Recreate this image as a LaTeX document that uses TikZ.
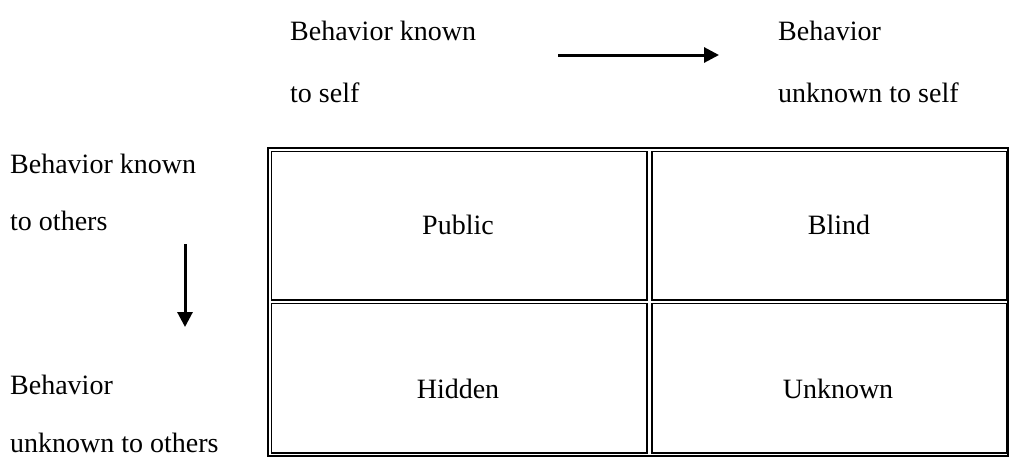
\documentclass[tikz,border=0pt]{standalone}
\usepackage{fontspec}
\setmainfont{Liberation Serif}
\usetikzlibrary{arrows.meta}
\begin{document}
\begin{tikzpicture}[x=1pt,y=-1pt,
  lbl/.style={anchor=base west,inner sep=0pt,font=\fontsize{28}{34}\selectfont},
  celltext/.style={anchor=center,inner sep=0pt,font=\fontsize{28}{34}\selectfont},
  border/.style={draw=black,line width=1.5pt},
  cellbox/.style={draw=black,line width=1.5pt,rectangle,inner sep=0pt},
  flow/.style={line width=3pt,-{Triangle[length=15pt,width=15pt]}}]
\useasboundingbox (0,0) rectangle (1014,475);

% axis labels along the top
\node[lbl] (ks1) at (290,40) {Behavior known};
\node[lbl] (ks2) at (290,102) {to self};
\node[lbl] (us1) at (778,40) {Behavior};
\node[lbl] (us2) at (778,102) {unknown to self};

% axis labels down the left side
\node[lbl] (ko1) at (10,173) {Behavior known};
\node[lbl] (ko2) at (10,230) {to others};
\node[lbl] (uo1) at (10,394) {Behavior};
\node[lbl] (uo2) at (10,452) {unknown to others};

% direction arrows
\coordinate (hs) at (558,55);
\coordinate (he) at (719,55);
\coordinate (vs) at (185,244);
\coordinate (ve) at (185,327);
\draw[flow] (hs) -- (he);
\draw[flow] (vs) -- (ve);

% outer frame of the window
\draw[border] (268,148) rectangle (1008,456);

% the four panes, inset to form double borders
\node[cellbox,minimum width=375.5pt,minimum height=148.5pt] (pub) at (459.25,225.75) {};
\node[cellbox,minimum width=354.5pt,minimum height=148.5pt] (bli) at (829.25,225.75) {};
\node[cellbox,minimum width=375.5pt,minimum height=149.5pt] (hid) at (459.25,378.25) {};
\node[cellbox,minimum width=354.5pt,minimum height=149.5pt] (unk) at (829.25,378.25) {};

% pane titles
\node[celltext] (tpub) at (458,225) {Public};
\node[celltext] (tbli) at (839,225) {Blind};
\node[celltext] (thid) at (458,389) {Hidden};
\node[celltext] (tunk) at (838,389) {Unknown};
\end{tikzpicture}
\end{document}
